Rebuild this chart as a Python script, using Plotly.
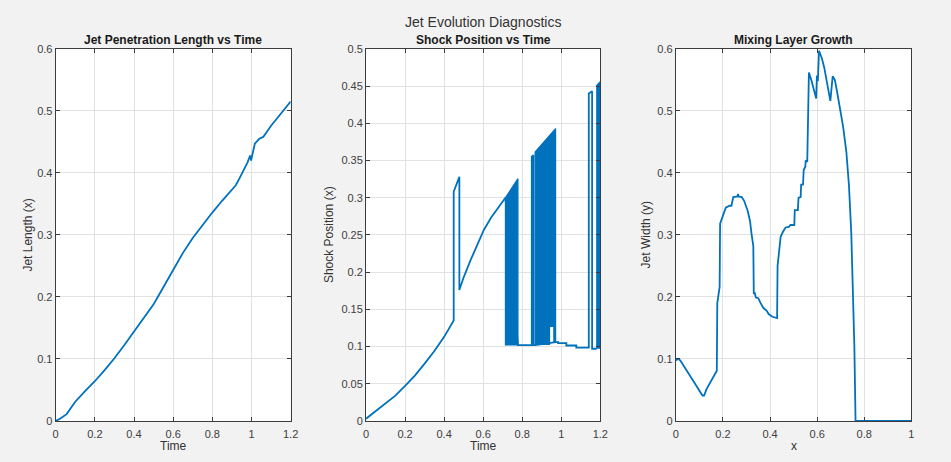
import plotly.graph_objects as go

# ---- Jet penetration length vs time ----
jet_time = [0, 0.02, 0.056, 0.1, 0.15, 0.2, 0.25, 0.3, 0.35, 0.4, 0.45, 0.5, 0.52,
            0.55, 0.6, 0.65, 0.7, 0.75, 0.8, 0.85, 0.9, 0.92, 0.94, 0.96, 0.98,
            0.993, 0.998, 1.017, 1.04, 1.06, 1.08, 1.1, 1.126, 1.15, 1.17, 1.2]
jet_length = [0, 0.003, 0.011, 0.031, 0.048, 0.064, 0.082, 0.101, 0.122, 0.144,
              0.166, 0.188, 0.199, 0.216, 0.244, 0.271, 0.295, 0.316, 0.336, 0.355,
              0.372, 0.38, 0.392, 0.404, 0.417, 0.428, 0.42, 0.447, 0.455, 0.458,
              0.468, 0.476, 0.486, 0.496, 0.503, 0.515]

# ---- Shock position vs time (continuous track) ----
shock_time = [0, 0.05, 0.1, 0.15, 0.2, 0.25, 0.3, 0.35, 0.4, 0.43, 0.449, 0.449,
              0.478, 0.478, 0.5, 0.537, 0.57, 0.604, 0.64, 0.68, 0.714,
              0.778, 0.849, 0.849, 0.858, 0.858, 0.866,
              0.971, 0.984, 0.984, 1.026, 1.026, 1.077, 1.077, 1.141, 1.141,
              1.158, 1.158, 1.182]
shock_pos = [0.003, 0.013, 0.023, 0.034, 0.047, 0.061, 0.077, 0.094, 0.113, 0.126,
             0.135, 0.308, 0.328, 0.176, 0.193, 0.217, 0.237, 0.257, 0.273, 0.288, 0.300,
             0.102, 0.102, 0.355, 0.357, 0.102, 0.102,
             0.106, 0.106, 0.1045, 0.1045, 0.1014, 0.1014, 0.0984, 0.0984, 0.44,
             0.443, 0.097, 0.097]

# Rapidly oscillating intervals, outlined by their upper / lower envelopes
band1_time = [0.714, 0.714, 0.778, 0.778]
band1_pos = [0.1014, 0.300, 0.3256, 0.1014]
band2_time = [0.866, 0.866, 0.971, 0.971, 0.962, 0.962, 0.94, 0.94]
band2_pos = [0.102, 0.3614, 0.3929, 0.106, 0.106, 0.127, 0.127, 0.102]
band3_time = [1.182, 1.182, 1.2, 1.2]
band3_pos = [0.097, 0.451, 0.456, 0.097]

# ---- Mixing layer width profile ----
mix_x = [0, 0.012, 0.02, 0.053, 0.085, 0.113, 0.12, 0.13, 0.165, 0.174, 0.176,
         0.186, 0.188, 0.2, 0.212, 0.228, 0.236, 0.244, 0.262, 0.264, 0.266, 0.28,
         0.29, 0.305, 0.315, 0.322, 0.329, 0.331, 0.335, 0.34, 0.35, 0.36, 0.372,
         0.385, 0.395, 0.41, 0.425, 0.43, 0.432, 0.437, 0.445, 0.455, 0.466, 0.48,
         0.487, 0.503, 0.505, 0.518, 0.521, 0.53, 0.532, 0.54, 0.543, 0.55, 0.551,
         0.558, 0.56, 0.563, 0.565, 0.575, 0.585, 0.596, 0.599, 0.603, 0.608, 0.62,
         0.63, 0.645, 0.656, 0.666, 0.675, 0.685, 0.696, 0.71, 0.724, 0.735, 0.745,
         0.752, 0.758, 0.763, 1.0]
mix_width = [0.098, 0.1, 0.097, 0.078, 0.058, 0.041, 0.041, 0.051, 0.075, 0.081,
             0.19, 0.216, 0.318, 0.33, 0.344, 0.347, 0.347, 0.361, 0.362, 0.366,
             0.362, 0.361, 0.355, 0.339, 0.322, 0.3, 0.282, 0.205, 0.206, 0.199,
             0.198, 0.19, 0.182, 0.178, 0.172, 0.168, 0.166, 0.166, 0.25, 0.27,
             0.297, 0.305, 0.312, 0.313, 0.316, 0.316, 0.34, 0.34, 0.36, 0.361,
             0.381, 0.381, 0.405, 0.41, 0.42, 0.418, 0.47, 0.5, 0.562, 0.55, 0.535,
             0.52, 0.557, 0.548, 0.597, 0.585, 0.57, 0.54, 0.516, 0.556, 0.55, 0.53,
             0.508, 0.475, 0.434, 0.38, 0.302, 0.22, 0.12, 0.0, 0.0]

ticks_time = [0, 0.2, 0.4, 0.6, 0.8, 1, 1.2]
ticks_x = [0, 0.2, 0.4, 0.6, 0.8, 1]
ticks_len = [0, 0.1, 0.2, 0.3, 0.4, 0.5, 0.6]
ticks_shock = [0, 0.05, 0.1, 0.15, 0.2, 0.25, 0.3, 0.35, 0.4, 0.45, 0.5]

BLUE = "#0072BD"
FONT = "Liberation Sans, Arial, sans-serif"
W, H = 951, 462

fig = go.Figure()
line_style = dict(color=BLUE, width=1.8)

fig.add_trace(go.Scatter(x=jet_time, y=jet_length, mode="lines", line=line_style,
                         xaxis="x", yaxis="y", showlegend=False))

for bt, bp in [(band1_time, band1_pos), (band2_time, band2_pos), (band3_time, band3_pos)]:
    fig.add_trace(go.Scatter(x=bt, y=bp, mode="lines", fill="toself", fillcolor=BLUE,
                             line=dict(color=BLUE, width=1.2), xaxis="x2", yaxis="y2",
                             showlegend=False))
fig.add_trace(go.Scatter(x=shock_time, y=shock_pos, mode="lines", line=line_style,
                         xaxis="x2", yaxis="y2", showlegend=False))

fig.add_trace(go.Scatter(x=mix_x, y=mix_width, mode="lines", line=line_style,
                         xaxis="x3", yaxis="y3", showlegend=False))

# axes placement (pixels -> paper fractions)
px_dom = [(53.3, 291.0), (367.3, 604.3), (680.7, 919.0)]
y_dom = [(H - 426) / H, (H - 44) / H]

axis_common = dict(
    showline=True, linecolor="#3c3c3c", linewidth=1, mirror="ticks",
    ticks="inside", ticklen=4, tickcolor="#3c3c3c", tickwidth=1,
    showgrid=True, gridcolor="#e2e2e2", gridwidth=1, zeroline=False,
    tickfont=dict(family=FONT, size=11, color="#404040"),
)

layout_axes = {}
xranges = [[0, 1.2], [0, 1.2], [0, 1]]
xticks = [ticks_time, ticks_time, ticks_x]
yranges = [[0, 0.6], [0, 0.5], [0, 0.6]]
yticks = [ticks_len, ticks_shock, ticks_len]
for i in range(3):
    sx = "" if i == 0 else str(i + 1)
    layout_axes["xaxis" + sx] = dict(
        axis_common, domain=[px_dom[i][0] / W, px_dom[i][1] / W], range=xranges[i],
        tickvals=xticks[i], ticktext=[f"{v:g}" for v in xticks[i]],
        ticklabelstandoff=3, anchor="y" + sx)
    layout_axes["yaxis" + sx] = dict(
        axis_common, domain=y_dom, range=yranges[i],
        tickvals=yticks[i], ticktext=[f"{v:g}" for v in yticks[i]],
        anchor="x" + sx)

annotations = []
# overall title
annotations.append(dict(text="Jet Evolution Diagnostics", x=485.5 / W, y=1 - 16 / H,
                        xref="paper", yref="paper", showarrow=False,
                        font=dict(family=FONT, size=14, color="#333333"),
                        xanchor="center", yanchor="middle"))
titles = ["Jet Penetration Length vs Time", "Shock Position vs Time", "Mixing Layer Growth"]
xlabels = ["Time", "Time", "x"]
ylabels = ["Jet Length (x)", "Shock Position (x)", "Jet Width (y)"]
ylabel_px = [25, 330, 650]
for i in range(3):
    cx = (px_dom[i][0] + px_dom[i][1]) / 2 / W
    annotations.append(dict(text=f"<b>{titles[i]}</b>", x=cx, y=1 - 35 / H,
                            xref="paper", yref="paper", showarrow=False,
                            font=dict(family=FONT, size=12, color="#1a1a1a"),
                            xanchor="center", yanchor="middle"))
    annotations.append(dict(text=xlabels[i], x=cx, y=1 - 452 / H,
                            xref="paper", yref="paper", showarrow=False,
                            font=dict(family=FONT, size=12, color="#333333"),
                            xanchor="center", yanchor="middle"))
    annotations.append(dict(text=ylabels[i], x=ylabel_px[i] / W, y=1 - 235 / H,
                            xref="paper", yref="paper", showarrow=False, textangle=-90,
                            font=dict(family=FONT, size=12, color="#333333"),
                            xanchor="center", yanchor="middle"))

fig.update_layout(
    width=W, height=H, margin=dict(l=0, r=0, t=0, b=0),
    paper_bgcolor="#f2f2f2", plot_bgcolor="#ffffff",
    annotations=annotations, showlegend=False,
    **layout_axes,
)

# page body without default margin so the figure fills the window exactly
fig.write_html("out.html", config={"displayModeBar": False},
               post_script="document.body.style.margin='0';")
